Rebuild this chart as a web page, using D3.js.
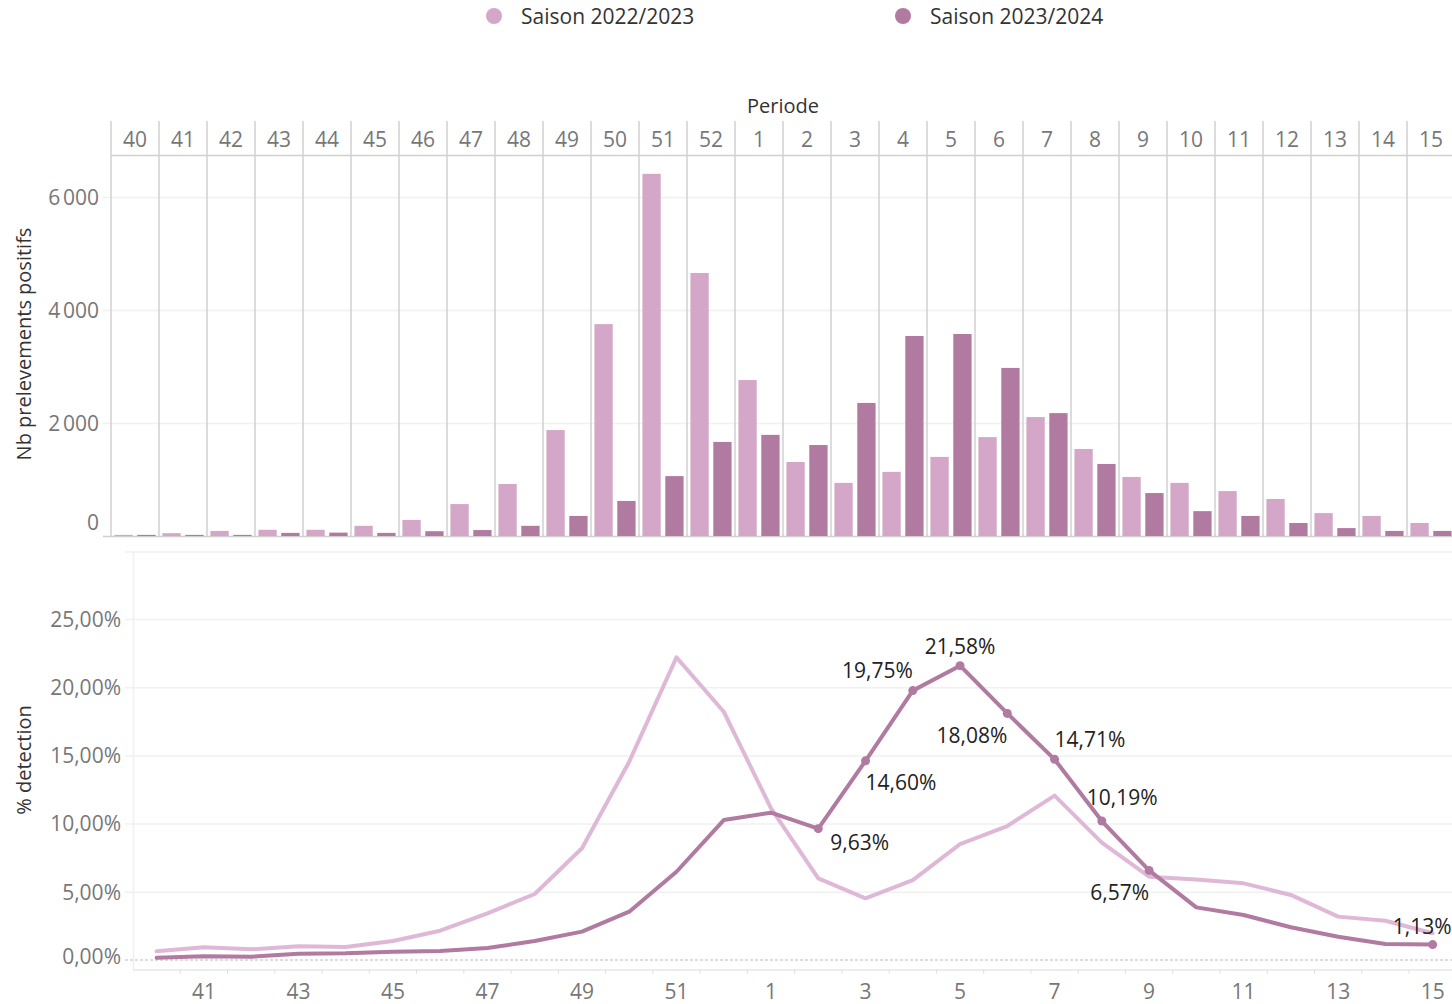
<!DOCTYPE html>
<html>
<head>
<meta charset="utf-8">
<script src="https://cdn.jsdelivr.net/npm/d3@7"></script>
<style>
  body { margin: 0; background: #fff; }
  text { font-family: "Open Sans", sans-serif; }
</style>
</head>
<body>
<svg id="chart"></svg>
<script>
// weeks of the season (Periode)
const weeks = ["40","41","42","43","44","45","46","47","48","49","50","51","52",
  "1","2","3","4","5","6","7","8","9","10","11","12","13","14","15"];
const seasons = ["Saison 2022/2023", "Saison 2023/2024"];

// Nb prelevements positifs
const pos2223 = [20,50,90,110,110,180,285,565,920,1875,3750,6410,4655,2760,1310,940,1135,1400,1750,2105,1540,1045,940,795,655,405,355,230];
const pos2324 = [20,20,20,55,60,55,85,105,180,355,620,1060,1665,1790,1610,2355,3540,3575,2975,2175,1275,760,440,355,230,140,90,90];

// % detection
const det2223 = [0.64,0.93,0.78,1.00,0.95,1.39,2.15,3.42,4.84,8.19,14.54,22.19,18.20,11.12,5.99,4.52,5.86,8.50,9.82,12.05,8.60,6.11,5.91,5.62,4.77,3.18,2.88,1.96];
const det2324 = [0.17,0.27,0.24,0.46,0.49,0.61,0.66,0.88,1.39,2.08,3.54,6.47,10.26,10.80,9.63,14.60,19.75,21.58,18.08,14.71,10.19,6.57,3.86,3.30,2.40,1.71,1.17,1.13];

const barTicks = [0, 2000, 4000, 6000];
const pctTicks = [0, 5, 10, 15, 20, 25];

// which points of 2023/2024 get a label, and where the label sits
const labelled = [
  { w: "2", anchor: "start", dx: 12, dy: 14 },
  { w: "3", anchor: "start", dx: 0, dy: 22 },
  { w: "4", anchor: "end", dx: 0, dy: -20 },
  { w: "5", anchor: "middle", dx: 0, dy: -19 },
  { w: "6", anchor: "end", dx: 0, dy: 22 },
  { w: "7", anchor: "start", dx: 0, dy: -20 },
  { w: "8", anchor: "start", dx: -15, dy: -23 },
  { w: "9", anchor: "end", dx: 0, dy: 22 },
  { w: "15", anchor: "end", dx: 19, dy: -18 }
];

const lightBar = "#d4a6c8", darkCol = "#b07aa1", lightLine = "#dfb8d7";
const gridCol = "#f0f0f0", sepCol = "#d0d0d0", tickText = "#777", titleCol = "#333";

const fr = d3.formatLocale({ decimal: ",", thousands: "\u202f", grouping: [3], currency: ["", " €"] });
const fmtN = fr.format(",d");
const fmtP = d => fr.format(".2f")(d) + "%";

const svg = d3.select("#chart").attr("width", 1452).attr("height", 1004);

// legend
const legX = [494, 903];
seasons.forEach((s, i) => {
  svg.append("circle").attr("cx", legX[i]).attr("cy", 16).attr("r", 8)
    .attr("fill", i === 0 ? lightBar : darkCol);
  svg.append("text").attr("x", legX[i] + 27).attr("y", 17).attr("dy", "0.35em")
    .attr("font-size", 21).attr("fill", titleCol).text(s);
});

// ---------- top panel : bars ----------
const xTop = d3.scaleBand().domain(weeks).range([111, 111 + 48 * weeks.length]);
const xSub = d3.scaleBand().domain([0, 1]).range([0, xTop.bandwidth()]).paddingInner(0.2).paddingOuter(0.15);
const yTop = d3.scaleLinear().domain([0, 6000]).range([536, 197]);

svg.append("text").attr("x", 783).attr("y", 106).attr("dy", "0.35em")
  .attr("text-anchor", "middle").attr("font-size", 20).attr("fill", titleCol).text("Periode");

// gridlines
svg.append("g")
  .attr("transform", "translate(103,0)")
  .call(d3.axisLeft(yTop).tickValues(barTicks).tickSize(-1360).tickFormat(""))
  .call(g => g.select(".domain").remove())
  .selectAll("line").attr("stroke", d => d === 0 ? sepCol : gridCol).attr("stroke-width", 1.5);

// bars
const bars = svg.append("g");
weeks.forEach((w, i) => {
  [pos2223[i], pos2324[i]].forEach((v, k) => {
    bars.append("rect")
      .attr("x", xTop(w) + xSub(k))
      .attr("width", xSub.bandwidth())
      .attr("y", yTop(v))
      .attr("height", yTop(0) - yTop(v))
      .attr("fill", k === 0 ? lightBar : darkCol);
  });
});

// header cells + column separators
const head = svg.append("g");
weeks.forEach(w => {
  head.append("line").attr("x1", xTop(w)).attr("x2", xTop(w))
    .attr("y1", 121).attr("y2", 536).attr("stroke", sepCol).attr("stroke-width", 1.5);
  head.append("text").attr("x", xTop(w) + xTop.bandwidth() / 2).attr("y", 140).attr("dy", "0.35em")
    .attr("text-anchor", "middle").attr("font-size", 21).attr("fill", tickText).text(w);
});
head.append("line").attr("x1", 111).attr("x2", 1452).attr("y1", 155.5).attr("y2", 155.5)
  .attr("stroke", sepCol).attr("stroke-width", 1.5);

// y axis labels
svg.append("g")
  .attr("transform", "translate(99,0)")
  .call(d3.axisLeft(yTop).tickValues(barTicks).tickSize(0).tickPadding(0).tickFormat(fmtN))
  .call(g => g.select(".domain").remove())
  .selectAll("text")
  .attr("font-family", "Open Sans, sans-serif").attr("font-size", 21).attr("fill", tickText)
  .attr("dy", d => d === 0 ? "-0.3em" : "0.35em");

svg.append("text")
  .attr("transform", "translate(24,344) rotate(-90)").attr("dy", "0.35em")
  .attr("text-anchor", "middle").attr("font-size", 20).attr("fill", titleCol)
  .text("Nb prelevements positifs");

// ---------- bottom panel : % detection ----------
const xBot = d3.scaleBand().domain(weeks).range([133, 133 + 47.26 * weeks.length]);
const yBot = d3.scaleLinear().domain([0, 25]).range([960, 619]);
const px = w => xBot(w) + xBot.bandwidth() / 2;

// frame
svg.append("line").attr("x1", 125).attr("x2", 1452).attr("y1", 552).attr("y2", 552)
  .attr("stroke", gridCol).attr("stroke-width", 1.5);
svg.append("line").attr("x1", 133.5).attr("x2", 133.5).attr("y1", 552).attr("y2", 970)
  .attr("stroke", gridCol).attr("stroke-width", 1.5);

svg.append("g")
  .attr("transform", "translate(125,0)")
  .call(d3.axisLeft(yBot).tickValues(pctTicks.filter(d => d > 0)).tickSize(-1330).tickFormat(""))
  .call(g => g.select(".domain").remove())
  .selectAll("line").attr("stroke", gridCol).attr("stroke-width", 1.5);

svg.append("line").attr("x1", 125).attr("x2", 1452).attr("y1", yBot(0)).attr("y2", yBot(0))
  .attr("stroke", "#bbb").attr("stroke-width", 1).attr("stroke-dasharray", "3,2");

// bottom axis
svg.append("line").attr("x1", 133).attr("x2", 1452).attr("y1", 970).attr("y2", 970)
  .attr("stroke", "#e6e6e6").attr("stroke-width", 1.5);
svg.append("g").selectAll("line").data(weeks.slice(1)).join("line")
  .attr("x1", d => xBot(d)).attr("x2", d => xBot(d)).attr("y1", 970).attr("y2", 974)
  .attr("stroke", "#e0e0e0").attr("stroke-width", 1);
svg.append("g")
  .attr("transform", "translate(0,992)")
  .call(d3.axisBottom(xBot).tickValues(weeks.filter((w, i) => i % 2 === 1)).tickSize(0).tickPadding(0))
  .call(g => g.select(".domain").remove())
  .selectAll("text")
  .attr("font-family", "Open Sans, sans-serif").attr("font-size", 21).attr("fill", tickText)
  .attr("dy", "0.35em");

// y axis labels
svg.append("g")
  .attr("transform", "translate(121,0)")
  .call(d3.axisLeft(yBot).tickValues(pctTicks).tickSize(0).tickPadding(0).tickFormat(fmtP))
  .call(g => g.select(".domain").remove())
  .selectAll("text")
  .attr("font-family", "Open Sans, sans-serif").attr("font-size", 21).attr("fill", tickText)
  .attr("dy", d => d === 0 ? "0.15em" : "0.35em");

svg.append("text")
  .attr("transform", "translate(24,760) rotate(-90)").attr("dy", "0.35em")
  .attr("text-anchor", "middle").attr("font-size", 20).attr("fill", titleCol)
  .text("% detection");

// lines
const line = d3.line().x((d, i) => px(weeks[i])).y(d => yBot(d));
svg.append("path").datum(det2223).attr("d", line)
  .attr("fill", "none").attr("stroke", lightLine).attr("stroke-width", 4)
  .attr("stroke-linejoin", "round").attr("stroke-linecap", "round");
svg.append("path").datum(det2324).attr("d", line)
  .attr("fill", "none").attr("stroke", darkCol).attr("stroke-width", 4)
  .attr("stroke-linejoin", "round").attr("stroke-linecap", "round");

// labelled points
const lab = svg.append("g");
labelled.forEach(l => {
  const i = weeks.indexOf(l.w);
  const cx = px(l.w), cy = yBot(det2324[i]);
  lab.append("circle").attr("cx", cx).attr("cy", cy).attr("r", 4.5).attr("fill", darkCol);
  lab.append("text").attr("x", cx + l.dx).attr("y", cy + l.dy).attr("dy", "0.35em")
    .attr("text-anchor", l.anchor).attr("font-size", 21).attr("fill", "#222")
    .text(fmtP(det2324[i]));
});
</script>
</body>
</html>
